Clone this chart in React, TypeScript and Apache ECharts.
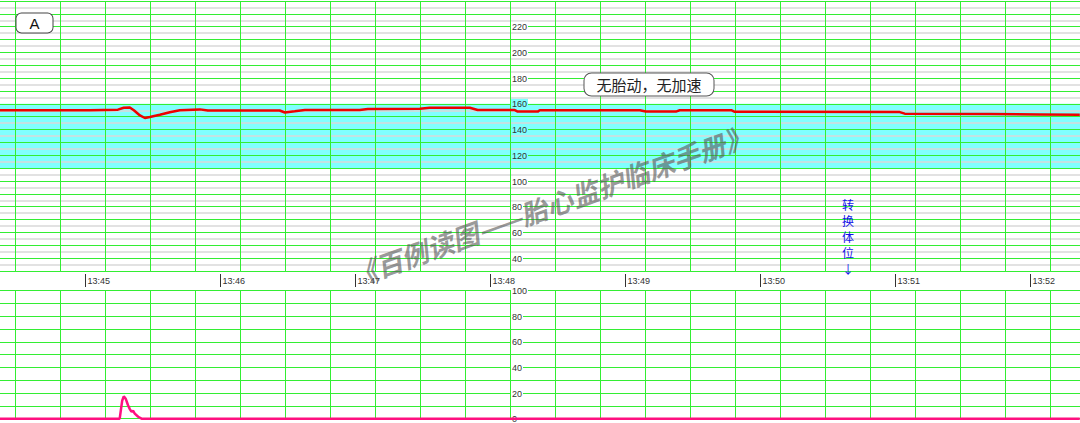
import React, { useEffect, useRef } from 'react';
import * as echarts from 'echarts';

// Time is seconds after 13:44:00
const FHR_TIME = [21.9, 61.9, 74.4, 77.0, 79.7, 81.5, 84.2, 86.4, 88.6, 93.0, 97.5, 101.9, 110.8, 114.4, 124.1, 146.3, 148.6, 153.0, 157.5, 181.9, 185.5, 208.6, 213.0, 230.8, 234.3, 250.8, 252.1, 261.0, 261.9, 306.4, 309.0, 322.4, 324.1, 347.2, 348.6, 359.7, 421.9, 424.1, 461.9, 484.1, 501.9];
const FHR_BPM = [155, 155, 155.5, 157, 157.2, 155, 151, 149, 149.8, 151.5, 153.5, 155, 155.7, 154.8, 154.8, 154.8, 153.3, 154.2, 155.2, 155.2, 156.0, 156.2, 157.0, 157.0, 155.2, 155.2, 154, 154, 155, 155, 154, 154, 155, 155, 153.8, 153.8, 153.6, 152.4, 152.2, 151.8, 151.5];

const UA_TIME = [21.9, 75.2, 76.3, 77.0, 77.9, 78.9, 79.7, 80.4, 81.2, 81.9, 83.4, 84.9, 501.9];
const UA_VALUE = [0, 0, 14, 17.5, 15.5, 10.5, 7.5, 5.5, 6, 4, 1.5, 0, 0];

const NORMAL_BAND = [110, 160];
const FHR_LABELS = [40, 60, 80, 100, 120, 140, 160, 180, 200, 220];
const UA_LABELS = [0, 20, 40, 60, 80, 100];
const TIME_HOUR = 13;
const TIME_BASE_MIN = 44;

const ANNOTATION = '无胎动，无加速';
const PANEL_LABEL = 'A';
const EVENT_LABEL = '转\n换\n体\n位\n↓';
const WATERMARK = '《百例读图——胎心监护临床手册》';

const GREEN = '#33ee33';
const GRAY = '#d8d8d8';
const PX_PER_S = 2.25;
const TIME_LEFT = -49.5; // px of t=0 (13:44:00)
const PAPER_OFFSET_S = 8.8889; // paper grid phase vs minute marks
const PAPER_LEFT = TIME_LEFT + PAPER_OFFSET_S * PX_PER_S;
const W = 1080;
const TIME_MAX = (W - TIME_LEFT) / PX_PER_S;
const PAPER_MAX = (W - PAPER_LEFT) / PX_PER_S;

const TOP = { top: 1, height: 270 };
const BOT = { top: 290.7, height: 128 };
const AXIS_X = 510.5;

export default function App() {
  const ref = useRef<HTMLDivElement>(null);
  useEffect(() => {
    document.body.style.margin = '0';
    const chart = echarts.init(ref.current!, null, { renderer: 'svg' });
    const fhr = FHR_TIME.map((t, i) => [t, FHR_BPM[i]]);
    const ua = UA_TIME.map((t, i) => [t, UA_VALUE[i]]);
    const labelFont = { fontFamily: 'Liberation Sans, Arial, sans-serif', fontSize: 9, color: '#333' };
    const gridBase = { outerBoundsMode: 'none', containLabel: false, right: 0 };
    const paperX = (gridIndex: number) => ({
      type: 'value', gridIndex, min: 0, max: PAPER_MAX, interval: 20,
      axisLine: { show: false }, axisTick: { show: false }, axisLabel: { show: false },
      splitLine: { show: true, lineStyle: { color: GREEN, width: 1 } },
    });
    const timeX = (gridIndex: number) => ({
      type: 'value', gridIndex, min: 0, max: TIME_MAX, interval: 60, show: false,
      splitLine: { show: false },
    });
    const hiddenY = (gridIndex: number, min: number, max: number) => ({
      type: 'value', gridIndex, min, max, show: false, splitLine: { show: false },
    });
    const option: any = {
      animation: false,
      grid: [
        { ...gridBase, left: PAPER_LEFT, ...TOP },
        { ...gridBase, left: TIME_LEFT, ...TOP },
        { ...gridBase, left: TIME_LEFT, top: 273.5, height: 13.5 },
        { ...gridBase, left: PAPER_LEFT, ...BOT },
        { ...gridBase, left: TIME_LEFT, ...BOT },
      ],
      xAxis: [
        paperX(0),
        timeX(1),
        {
          type: 'value', gridIndex: 2, min: 0, max: TIME_MAX, interval: 60, position: 'bottom',
          axisLine: { show: false },
          axisTick: { show: true, inside: true, length: 13, lineStyle: { color: '#333', width: 1 } },
          axisLabel: {
            inside: true, margin: 2, align: 'left', padding: [0, 0, 0, 2],
            showMinLabel: false, showMaxLabel: false, ...labelFont,
            formatter: (v: number) => {
              if (Math.abs(v % 60) > 0.01) return '';
              const m = TIME_BASE_MIN + Math.round(v / 60);
              return `${TIME_HOUR}:${String(m).padStart(2, '0')}`;
            },
          },
          splitLine: { show: false },
        },
        paperX(3),
        timeX(4),
      ],
      yAxis: [
        {
          type: 'value', gridIndex: 0, min: 30, max: 240, interval: 10, position: 'right',
          offset: -(W - AXIS_X),
          axisLine: { show: false }, axisTick: { show: false },
          axisLabel: {
            margin: 0.5, ...labelFont,
            formatter: (v: number) => {
              if (!FHR_LABELS.includes(v)) return '';
              return v >= NORMAL_BAND[0] && v <= NORMAL_BAND[1] ? `{c|${v}}` : `{w|${v}}`;
            },
            rich: {
              w: { backgroundColor: '#fff', padding: [1, 1, 0, 1], ...labelFont },
              c: { backgroundColor: '#80ffff', padding: [1, 1, 0, 1], ...labelFont },
            },
          },
          splitLine: { show: true, lineStyle: { color: GREEN, width: 1 } },
          minorTick: { show: false, splitNumber: 2 },
          minorSplitLine: { show: true, lineStyle: { color: GRAY, width: 1.5 } },
        },
        hiddenY(1, 30, 240),
        hiddenY(2, 0, 1),
        {
          type: 'value', gridIndex: 3, min: 0, max: 100, interval: 10, position: 'right',
          offset: -(W - AXIS_X),
          axisLine: { show: false }, axisTick: { show: false },
          axisLabel: {
            margin: 0.5, ...labelFont,
            formatter: (v: number) => (UA_LABELS.includes(v) ? `{w|${v}}` : ''),
            rich: { w: { backgroundColor: '#fff', padding: [1, 1, 0, 1], ...labelFont } },
          },
          splitLine: { show: true, lineStyle: { color: GREEN, width: 1 } },
        },
        hiddenY(4, 0, 100),
      ],
      series: [
        {
          type: 'line', xAxisIndex: 1, yAxisIndex: 1, data: [], z: -1,
          markArea: {
            silent: true, z: -1,
            itemStyle: { color: '#80ffff' },
            data: [[{ yAxis: NORMAL_BAND[0] }, { yAxis: NORMAL_BAND[1] }]],
          },
        },
        {
          type: 'line', xAxisIndex: 1, yAxisIndex: 1, data: fhr, showSymbol: false, symbol: 'none',
          lineStyle: { color: '#ee0000', width: 2.5 }, z: 3,
        },
        {
          type: 'line', xAxisIndex: 4, yAxisIndex: 4, data: ua, showSymbol: false, symbol: 'none',
          lineStyle: { color: '#ff1080', width: 2.5 }, clip: false, z: 3,
        },
      ],
      graphic: [
        {
          type: 'text', x: 34.5, y: 23, z: 10,
          style: {
            text: PANEL_LABEL, align: 'center', verticalAlign: 'middle',
            font: '15px "Liberation Sans", Arial, sans-serif', fill: '#111',
            backgroundColor: '#fff', borderColor: '#444', borderWidth: 1, borderRadius: 5,
            padding: [2, 13, 2, 13],
          },
        },
        {
          type: 'text', x: 649, y: 84.5, z: 10,
          style: {
            text: ANNOTATION, align: 'center', verticalAlign: 'middle',
            font: '15px "Noto Sans CJK SC", sans-serif', fill: '#222',
            backgroundColor: '#fff', borderColor: '#555', borderWidth: 1, borderRadius: 7,
            padding: [4, 12, 3, 12],
          },
        },
        {
          type: 'text', x: 848, y: 196, z: 10,
          style: {
            text: EVENT_LABEL, align: 'center', verticalAlign: 'top',
            font: '12px "Noto Sans CJK SC", sans-serif', fill: '#1212e8', lineHeight: 16,
          },
        },
        {
          type: 'text', x: 550, y: 205, rotation: 0.345, z: 20,
          style: {
            text: WATERMARK, align: 'center', verticalAlign: 'middle',
            font: 'italic bold 27px "Noto Sans CJK SC", sans-serif', fill: 'rgba(85,85,85,0.6)',
          },
        },
      ],
    };
    chart.setOption(option);
    return () => chart.dispose();
  }, []);
  return <div ref={ref} style={{ position: 'absolute', left: 0, top: 0, width: 1080, height: 423 }} />;
}
